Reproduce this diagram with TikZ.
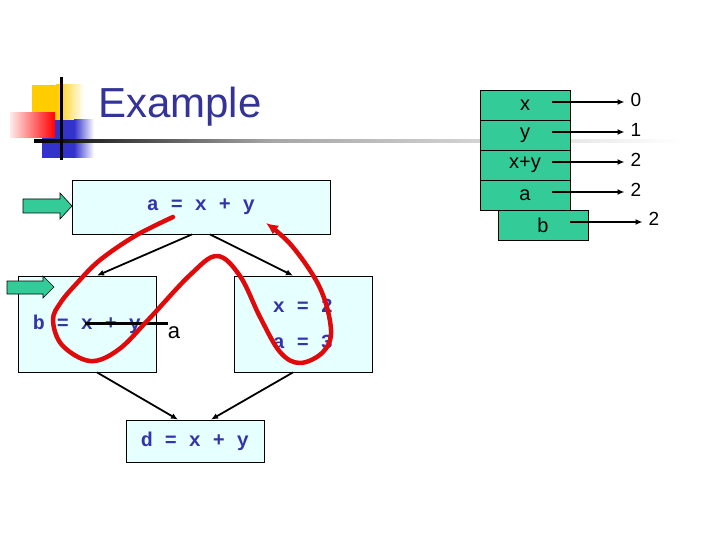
\documentclass[tikz,border=0pt]{standalone}
\usepackage{fontspec}
\setmainfont{Liberation Sans}
\setmonofont{Liberation Mono}
\usetikzlibrary{arrows.meta,calc}
\definecolor{titleblue}{RGB}{51,51,153}
\definecolor{codeblue}{RGB}{51,51,170}
\definecolor{boxfill}{RGB}{230,255,255}
\definecolor{regfill}{RGB}{51,204,153}
\definecolor{curvered}{RGB}{225,10,10}
\definecolor{logoyellow}{RGB}{255,204,0}
\definecolor{logoblue}{RGB}{51,51,204}
\begin{document}
\begin{tikzpicture}[x=1pt,y=-1pt,
  block/.style={draw=black, line width=0.8pt, fill=boxfill, inner sep=0pt},
  code/.style={font=\ttfamily\bfseries\fontsize{20}{24}\selectfont, text=codeblue},
  reg/.style={draw=black, line width=0.6pt, fill=regfill, minimum width=90pt, minimum height=30pt, inner sep=0pt, font=\fontsize{20}{24}\selectfont},
  val/.style={font=\fontsize{19}{22}\selectfont, inner sep=1pt},
  flow/.style={-{Latex[length=7pt,width=6pt]}, line width=1.8pt},
  regarrow/.style={-{Latex[length=7pt,width=6pt]}, line width=1.8pt, shorten >=5pt},
  greenarrow/.style={fill=regfill, draw=black, line width=0.6pt},
  loopcurve/.style={draw=curvered, line width=4.5pt, line cap=round, line join=round, -{Latex[length=12pt,width=11pt]}}]
\useasboundingbox (0,0) rectangle (720,540);

% logo
\fill[logoyellow] (32,85) rectangle (56,120);
\shade[left color=logoyellow, right color=white] (56,85) rectangle (84,120);
\fill[logoblue] (42,120) rectangle (74,158);
\shade[left color=logoblue, right color=white] (74,120) rectangle (94,158);
\shade[left color=red!8, right color=red] (10,113) rectangle (55,138);
\shade[left color=black, right color=gray!70] (34,140) rectangle (270,142.5);
\shade[left color=gray!70, right color=white] (270,140) rectangle (680,142.5);
\draw[line width=3pt] (61,77) -- (61,160);

% title
\node[anchor=base west, inner sep=0pt, text=titleblue, font=\fontsize{42}{50}\selectfont] (title) at (98,118) {Example};

% register table
\node[reg] (regx) at (525,105) {x};
\node[reg] (regy) at (525,135) {y};
\node[reg] (regxy) at (525,165) {x+y};
\node[reg] (rega) at (525,195) {a};
\node[reg] (regb) at (543,225) {b};
\node[val] (val0) at (636,100) {0};
\node[val] (val1) at (636,130) {1};
\node[val] (val2) at (636,160) {2};
\node[val] (val3) at (636,190) {2};
\node[val] (val4) at (654,219) {2};
\draw[regarrow] ($(regx.center)+(27,-3)$) -- (val0.west |- 0,102);
\draw[regarrow] ($(regy.center)+(27,-3)$) -- (val1.west |- 0,132);
\draw[regarrow] ($(regxy.center)+(27,-3)$) -- (val2.west |- 0,162);
\draw[regarrow] ($(rega.center)+(27,-3)$) -- (val3.west |- 0,192);
\draw[regarrow] ($(regb.center)+(27,-3)$) -- (val4.west |- 0,222);

% blocks
\node[block, minimum width=258pt, minimum height=54pt, code] (boxA) at (201,207) {a = x + y};
\node[block, minimum width=138pt, minimum height=96pt, code] (boxB) at (87,324) {b = x + y};
\node[block, minimum width=138pt, minimum height=96pt] (boxC) at (303,324) {};
\node[code, inner sep=0pt] (c1) at (303,306) {x = 2};
\node[code, inner sep=0pt] (c2) at (303,342) {a = 3};
\node[block, minimum width=138pt, minimum height=42pt, code] (boxD) at (195,441) {d = x + y};

% flow edges
\draw[flow] ($(boxA.south)+(-9,0)$) -- ($(boxB.north)+(10,0)$);
\draw[flow] ($(boxA.south)+(9,0)$) -- ($(boxC.north)+(-10,0)$);
\draw[flow] ($(boxB.south)+(10,0)$) -- ($(boxD.north)+(-17,0)$);
\draw[flow] ($(boxC.south)+(-10,0)$) -- ($(boxD.north)+(16,0)$);

% green entry arrows
\draw[greenarrow] (23,199) -- (60,199) -- (60,193) -- (72,206) -- (60,219) -- (60,213) -- (23,213) -- cycle;
\draw[greenarrow] (7,281) -- (43,281) -- (43,276) -- (54,287) -- (43,298) -- (43,294) -- (7,294) -- cycle;

% kill line and label
\draw[line width=3pt] (85,323) -- (168,323);
\node[inner sep=0pt, font=\fontsize{22}{26}\selectfont] (alabel) at (174,333) {a};

% red loop curve
\draw[loopcurve] plot[smooth, tension=0.6] coordinates {(173,217) (135,236) (100,260) (78,282) (61,302) (53,320) (62,345) (90,361) (118,350) (148,320) (190,275) (217,256) (240,276) (260,317) (280,352) (300,363) (323,352) (331,330) (320,288) (292,246) (266,223)};
\end{tikzpicture}
\end{document}
